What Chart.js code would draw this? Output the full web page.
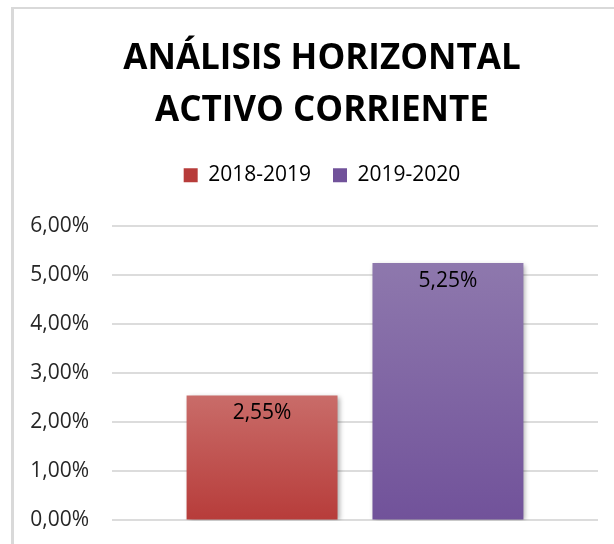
<!DOCTYPE html>
<html>
<head>
<meta charset="utf-8">
<script src="https://cdn.jsdelivr.net/npm/chart.js@4.4.1/dist/chart.umd.min.js"></script>
<style>
  html, body { margin: 0; padding: 0; background: #fff; overflow: hidden; }
  #frame {
    position: absolute; left: 11px; top: 7px;
    width: 640px; height: 560px;
    border-left: 3px solid #d9d9d9; border-top: 2px solid #d9d9d9;
  }
  #mycanvas { display: block; }
</style>
</head>
<body>
<div id="frame"><canvas id="mycanvas" width="616" height="547"></canvas></div>
<script>
var categories = [''];
var seriesNames = ['2018-2019', '2019-2020'];
var values1819 = [2.55];
var values1920 = [5.25];
var yTicks = [0, 1, 2, 3, 4, 5, 6];

// top / bottom colours of each bar gradient
var gradColors = [
	['#c96c69', '#b73c3a'],
	['#8e78ad', '#71529a']
];

function pct(v) {
	return v.toFixed(2).replace('.', ',') + '%';
}

function barFill(idx) {
	return function(context) {
		var chart = context.chart;
		if (!chart.chartArea) return gradColors[idx][1];
		var y = chart.scales.y;
		var top = y.getPixelForValue(context.raw);
		var bottom = y.getPixelForValue(0);
		var g = chart.ctx.createLinearGradient(0, top, 0, bottom);
		g.addColorStop(0, gradColors[idx][0]);
		g.addColorStop(1, gradColors[idx][1]);
		return g;
	};
}

// extra space under the legend, and title/legend centred on the whole canvas
var legendMargin = {
	id: 'legendMargin',
	beforeInit: function(chart) {
		var fitValue = chart.legend.fit;
		chart.legend.fit = function fit() {
			fitValue.bind(chart.legend)();
			this.height += 30.5;
		};
	},
	afterLayout: function(chart) {
		[chart.titleBlock, chart.legend].forEach(function(b) {
			b.left = 0;
			b.right = chart.width;
			b.width = chart.width;
		});
	}
};

// bar shadow + value labels
var barExtras = {
	id: 'barExtras',
	beforeDatasetsDraw: function(chart) {
		var ctx = chart.ctx;
		ctx.save();
		ctx.shadowColor = 'rgba(0,0,0,0.35)';
		ctx.shadowBlur = 5;
		ctx.shadowOffsetX = 2;
		ctx.shadowOffsetY = 2;
	},
	afterDatasetsDraw: function(chart) {
		var ctx = chart.ctx;
		ctx.restore();
		ctx.save();
		ctx.font = '21px "Open Sans"';
		ctx.fillStyle = '#000';
		ctx.textAlign = 'center';
		ctx.textBaseline = 'middle';
		chart.data.datasets.forEach(function(ds, i) {
			chart.getDatasetMeta(i).data.forEach(function(bar, j) {
				ctx.fillText(pct(ds.data[j]), bar.x, bar.y + 18);
			});
		});
		ctx.restore();
	}
};

var chartdata = {
	labels: categories,
	datasets: [
		{
			label: seriesNames[0],
			data: values1819,
			backgroundColor: barFill(0),
			categoryPercentage: 0.765,
			barPercentage: 0.812
		},
		{
			label: seriesNames[1],
			data: values1920,
			backgroundColor: barFill(1),
			categoryPercentage: 0.765,
			barPercentage: 0.812
		}
	]
};

var ctx = document.getElementById('mycanvas');

var barGraph = new Chart(ctx, {
	type: 'bar',
	data: chartdata,
	plugins: [legendMargin, barExtras],
	options: {
		responsive: false,
		animation: false,
		layout: { padding: { top: 0, right: 32, bottom: 0, left: 0 } },
		plugins: {
			tooltip: { enabled: false },
			title: {
				display: true,
				text: ['ANÁLISIS HORIZONTAL', 'ACTIVO CORRIENTE'],
				color: '#000',
				font: { family: '"Open Sans"', size: 35, weight: 'bold', lineHeight: 1.49 },
				padding: { top: 23.5, bottom: 6 }
			},
			legend: {
				position: 'top',
				labels: {
					color: '#262626',
					font: { family: '"Open Sans"', size: 21 },
					boxWidth: 14,
					boxHeight: 14,
					padding: 22,
					generateLabels: function(chart) {
						return chart.data.datasets.map(function(ds, i) {
							return {
								text: ds.label,
								fillStyle: gradColors[i][1],
								strokeStyle: gradColors[i][1],
								lineWidth: 0,
								datasetIndex: i
							};
						});
					}
				}
			}
		},
		scales: {
			x: { display: false },
			y: {
				min: 0,
				max: 6,
				afterFit: function(scale) { scale.width = 98; },
				afterBuildTicks: function(scale) {
					scale.ticks = yTicks.map(function(v) { return { value: v }; });
				},
				border: { display: false },
				grid: { color: '#dcdcdc', lineWidth: 2, drawTicks: false },
				ticks: {
					padding: 23,
					color: '#262626',
					font: { family: '"Open Sans"', size: 21 },
					callback: function(v) { return pct(v); }
				}
			}
		}
	}
});
</script>
</body>
</html>
